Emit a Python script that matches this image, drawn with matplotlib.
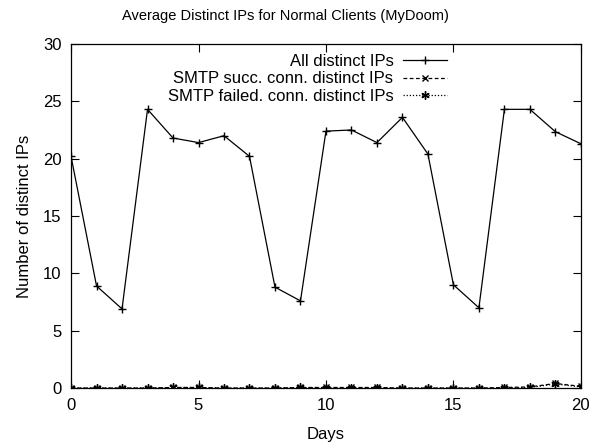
import matplotlib.pyplot as plt

plt.rcParams["font.family"] = ["Liberation Sans", "DejaVu Sans"]
plt.rcParams["font.size"] = 12

days = list(range(21))
all_ips = [20.2, 8.9, 6.9, 24.3, 21.8, 21.4, 22.0, 20.2, 8.8, 7.6, 22.4,
           22.5, 21.4, 23.6, 20.4, 9.0, 7.0, 24.3, 24.3, 22.35, 21.3]
smtp_succ = [0.0, 0.0, 0.0, 0.0, 0.05, 0.05, 0.0, 0.0, 0.0, 0.05, 0.05,
             0.05, 0.05, 0.0, 0.0, 0.0, 0.0, 0.05, 0.1, 0.4, 0.15]
smtp_failed = [0.0, 0.0, 0.0, 0.0, 0.05, 0.05, 0.0, 0.0, 0.0, 0.05, 0.0,
               0.0, 0.0, 0.0, 0.0, 0.0, 0.0, 0.0, 0.05, 0.35, 0.1]

labels = ["All distinct IPs",
          "SMTP succ. conn. distinct IPs",
          "SMTP failed. conn. distinct IPs"]

fig = plt.figure(figsize=(5.97, 4.44), dpi=100)
ax = fig.add_axes([0.119, 0.126, 0.854, 0.775])

ax.plot(days, all_ips, color="black", lw=0.9, marker="+", ms=6, mew=1.0,
        label=labels[0])
ax.plot(days, smtp_succ, color="black", lw=0.9, ls=(0, (3, 2)), marker="x",
        ms=4.5, mew=1.0, label=labels[1])
ax.plot(days, smtp_failed, color="black", lw=0.9, ls=(0, (1, 1.5)),
        marker=(6, 2, 0), ms=6, mew=1.0, label=labels[2])

ax.set_xlim(0, 20)
ax.set_ylim(0, 30)
ax.set_xticks(range(0, 21, 5))
ax.set_yticks(range(0, 31, 5))
ax.tick_params(direction="in", top=True, right=True, length=6, width=0.8,
               pad=7, labelsize=12)
for s in ax.spines.values():
    s.set_linewidth(0.9)

# gnuplot centres the title on the canvas, a bit left of the plot centre
fig.text(0.478, 0.964, "Average Distinct IPs for Normal Clients (MyDoom)",
         fontsize=10.5, ha="center", va="center")
ax.set_xlabel("Days", fontsize=12, labelpad=10)
ax.set_ylabel("Number of distinct IPs", fontsize=12, labelpad=8)

leg = ax.legend(loc="upper right", bbox_to_anchor=(0.763, 1.01),
                frameon=False, markerfirst=False, handlelength=2.6,
                handletextpad=0.6, labelspacing=0.15, borderpad=0.3,
                fontsize=12)
leg._legend_box._children[-1]._children[0].align = "right"

plt.savefig("out.png", dpi=100)
plt.close(fig)
